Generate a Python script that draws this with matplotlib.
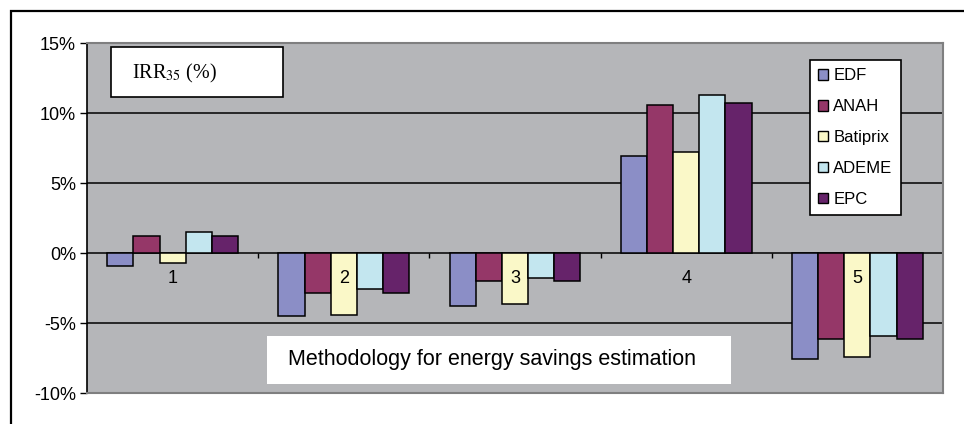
import numpy as np
import matplotlib.pyplot as plt
from matplotlib.patches import Rectangle, Patch
from matplotlib.ticker import FuncFormatter

plt.rcParams['font.family'] = ['Liberation Sans', 'DejaVu Sans']
plt.rcParams['mathtext.fontset'] = 'stix'

categories = ['1', '2', '3', '4', '5']
series = ['EDF', 'ANAH', 'Batiprix', 'ADEME', 'EPC']
edf = [-0.9, -4.5, -3.8, 6.95, -7.55]
anah = [1.2, -2.85, -2.0, 10.6, -6.15]
batiprix = [-0.7, -4.4, -3.65, 7.2, -7.45]
ademe = [1.5, -2.6, -1.8, 11.3, -5.95]
epc = [1.2, -2.85, -2.0, 10.7, -6.15]
values = [edf, anah, batiprix, ademe, epc]
colors = ['#8b8ec6', '#953768', '#faf8c8', '#c3e6ef', '#66236a']

fig = plt.figure(figsize=(9.64, 4.24), dpi=100)
ax = fig.add_axes([87 / 964, 1 - 393 / 424, 856 / 964, 350 / 424])
ax.set_facecolor('#b5b6b9')

x = np.arange(len(categories))
w = 0.153
for i, (name, vals, c) in enumerate(zip(series, values, colors)):
    ax.bar(x + (i - 2) * w, vals, w, color=c, edgecolor='black', lw=1.1,
           label=name, zorder=3)

ax.set_xlim(-0.5, 4.5)
ax.set_ylim(-10, 15)
ax.set_yticks([-10, -5, 0, 5, 10, 15])
ax.yaxis.set_major_formatter(FuncFormatter(lambda v, p: '%d%%' % v))
ax.tick_params(axis='y', labelsize=13, length=5, width=1, direction='out', pad=3)
ax.set_xticks([])

# gridlines and zero axis
for yv in [-5, 5, 10]:
    ax.axhline(yv, color='black', lw=1.1, zorder=1)
ax.axhline(0, color='black', lw=1.1, zorder=2)
ax.vlines(x + 0.5, -0.35, 0, color='black', lw=1, zorder=2)

for xi, lab in zip(x, categories):
    ax.text(xi, -1.85, lab, ha='center', va='center', fontsize=13, zorder=5)

for s in ['top', 'right', 'bottom']:
    ax.spines[s].set_color('#7f7f80')
    ax.spines[s].set_linewidth(1.5)
ax.spines['left'].set_color('black')
ax.spines['left'].set_linewidth(1.2)

handles = [Patch(facecolor=c, edgecolor='black', lw=1, label=n) for n, c in zip(series, colors)]
leg = ax.legend(handles=handles, loc='upper left',
                bbox_to_anchor=(810 / 964, 1 - 60 / 424), bbox_transform=fig.transFigure,
                fontsize=12, frameon=True, fancybox=False, edgecolor='black',
                framealpha=1, facecolor='white',
                handlelength=0.6, handleheight=0.6, handletextpad=0.3,
                labelspacing=0.95, borderpad=0.5, borderaxespad=0)
leg.get_frame().set_linewidth(1.2)
leg.set_zorder(6)

# outer chart frame
fig.patches.append(Rectangle((11 / 964, -0.1), 1.1, 1 - 11 / 424 + 0.1,
                             transform=fig.transFigure, fill=False,
                             edgecolor='black', lw=1.6))

# IRR box
fig.patches.append(Rectangle((111 / 964, 1 - 97 / 424), 172 / 964, 50 / 424,
                             transform=fig.transFigure, facecolor='white',
                             edgecolor='black', lw=1.2, zorder=5))
fig.text(132 / 964, 1 - 73 / 424, 'IRR$_{35}$ (%)', family='Liberation Serif',
         fontsize=14.5, va='center', ha='left', zorder=6)

# methodology box
fig.patches.append(Rectangle((267 / 964, 1 - 384 / 424), 464 / 964, 48 / 424,
                             transform=fig.transFigure, facecolor='white',
                             edgecolor='none', zorder=5))
fig.text(288 / 964, 1 - 360 / 424, 'Methodology for energy savings estimation',
         fontsize=15.5, va='center', ha='left', zorder=6)

fig.savefig('out.png', dpi=100)
